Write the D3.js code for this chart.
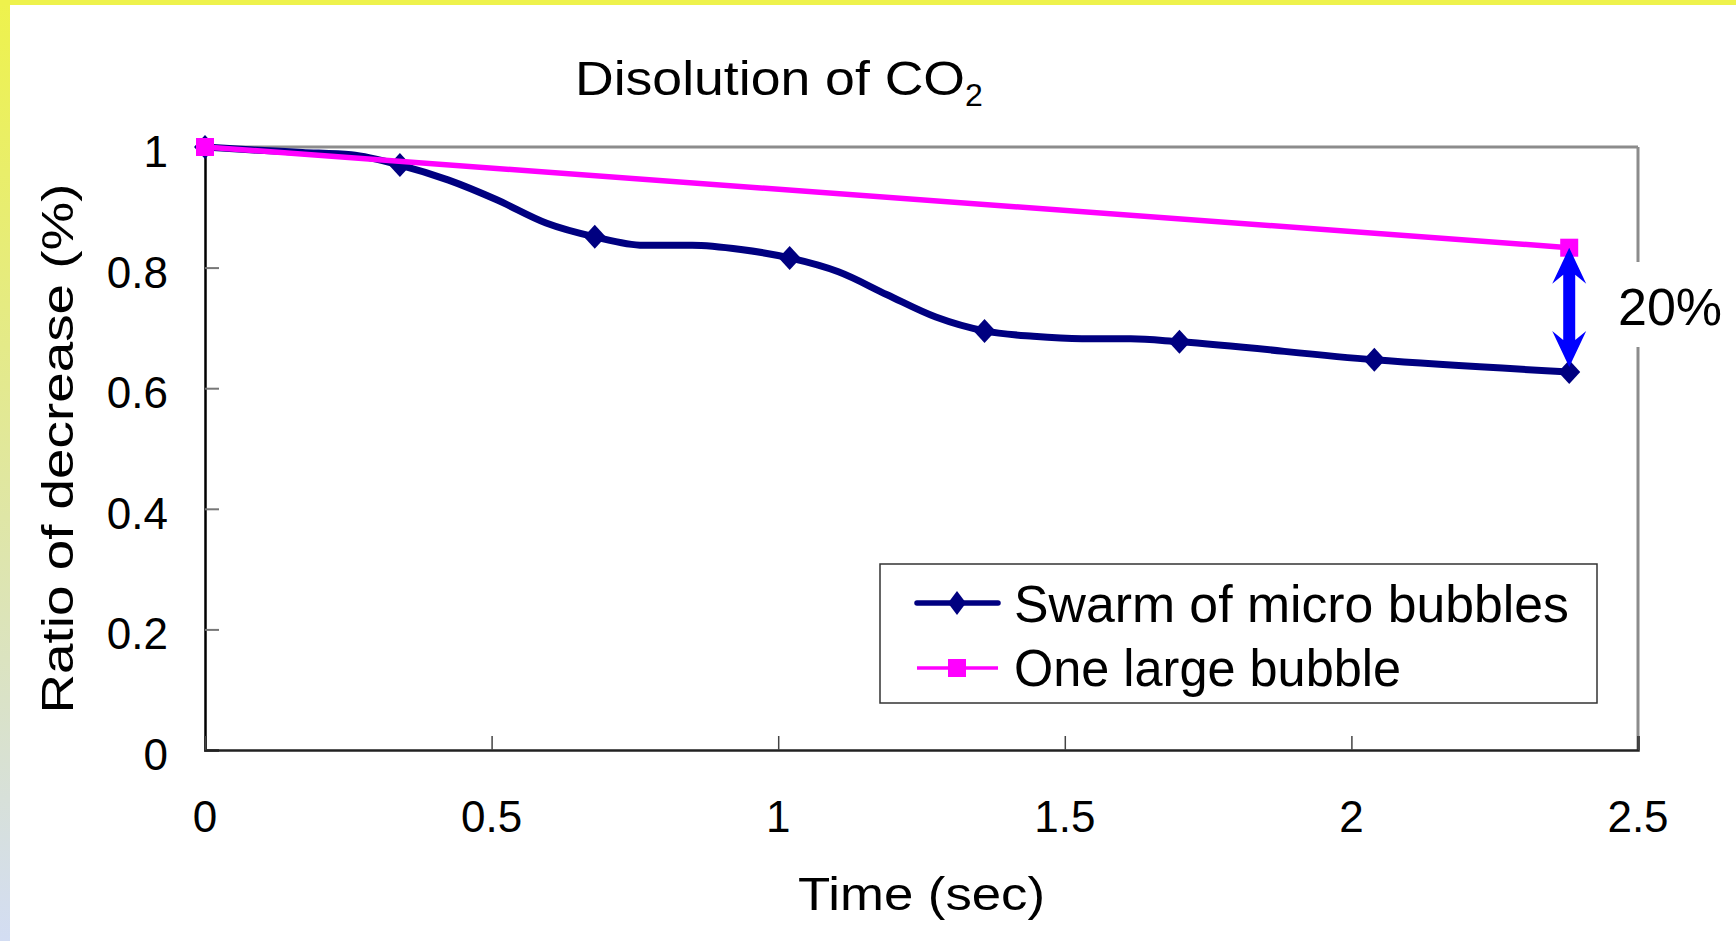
<!DOCTYPE html>
<html>
<head>
<meta charset="utf-8">
<script src="https://cdn.jsdelivr.net/npm/d3@7"></script>
<style>
  body { margin: 0; background: #fff; }
  text { font-family: "Liberation Sans", Arial, sans-serif; fill: #000; }
</style>
</head>
<body>
<div id="chart"></div>
<script>
// data
const swarmTime  = [0, 0.085, 0.17, 0.255, 0.34, 0.425, 0.51, 0.595, 0.68, 0.765, 0.85, 0.935,
                    1.02, 1.105, 1.19, 1.275, 1.36, 1.445, 1.53, 1.615, 1.70, 2.04, 2.38];
const swarmRatio = [1.000, 0.995, 0.991, 0.987, 0.970, 0.945, 0.912, 0.874, 0.851, 0.837, 0.837, 0.830,
                    0.816, 0.793, 0.755, 0.718, 0.695, 0.686, 0.682, 0.682, 0.677, 0.647, 0.627];
const swarmMarkerTimes = [0, 0.34, 0.68, 1.02, 1.36, 1.70, 2.04, 2.38];
const largeTime  = [0, 2.38];
const largeRatio = [1.0, 0.833];
const xTicks = [0, 0.5, 1, 1.5, 2, 2.5];
const xTickLabels = ["0", "0.5", "1", "1.5", "2", "2.5"];
const yTicks = [0, 0.2, 0.4, 0.6, 0.8, 1];
const yTickLabels = ["0", "0.2", "0.4", "0.6", "0.8", "1"];
const seriesNames = ["Swarm of micro bubbles", "One large bubble"];
const diffLabel = "20%";

const W = 1736, H = 941;
const plot = {left: 205, right: 1638, top: 147, bottom: 750};

const svg = d3.select("#chart").append("svg")
    .attr("width", W)
    .attr("height", H);

// yellow / blue frame of the slide
const defs = svg.append("defs");
const grad = defs.append("linearGradient")
    .attr("id", "sideGrad")
    .attr("x1", 0).attr("y1", 0).attr("x2", 0).attr("y2", 1);
grad.append("stop").attr("offset", "0%").attr("stop-color", "#eef24c");
grad.append("stop").attr("offset", "55%").attr("stop-color", "#dfe6a6");
grad.append("stop").attr("offset", "100%").attr("stop-color", "#d3ddf3");
svg.append("rect").attr("x", 0).attr("y", 0).attr("width", 10).attr("height", H).attr("fill", "url(#sideGrad)");
svg.append("rect").attr("x", 0).attr("y", 0).attr("width", W).attr("height", 5).attr("fill", "#eef24c");

const x = d3.scaleLinear().domain([0, 2.5]).range([plot.left, plot.right]);
const y = d3.scaleLinear().domain([0, 1]).range([plot.bottom, plot.top]);

// plot area border (top + right, grey)
svg.append("line")
    .attr("x1", plot.left).attr("x2", plot.right)
    .attr("y1", plot.top).attr("y2", plot.top)
    .attr("stroke", "#8c8c8c").attr("stroke-width", 3);
svg.append("line")
    .attr("x1", plot.right).attr("x2", plot.right)
    .attr("y1", plot.top).attr("y2", plot.bottom)
    .attr("stroke", "#8c8c8c").attr("stroke-width", 3);

// axes
const yAxis = svg.append("g")
    .attr("transform", `translate(${plot.left},0)`)
    .call(d3.axisRight(y).tickValues(yTicks).tickSize(14).tickFormat(""));
yAxis.select(".domain").attr("stroke", "#000").attr("stroke-width", 2.5);
yAxis.selectAll(".tick line").attr("stroke", "#777").attr("stroke-width", 2);

const xAxis = svg.append("g")
    .attr("transform", `translate(0,${plot.bottom})`)
    .call(d3.axisTop(x).tickValues(xTicks).tickSize(14).tickFormat(""));
xAxis.select(".domain").attr("stroke", "#222").attr("stroke-width", 2.5);
xAxis.selectAll(".tick line").attr("stroke", "#444").attr("stroke-width", 1.5);

svg.append("g").selectAll("text")
    .data(yTicks)
    .enter().append("text")
    .attr("x", 168)
    .attr("y", d => y(d) + 20)
    .attr("text-anchor", "end")
    .attr("font-size", 44)
    .text((d, i) => yTickLabels[i]);

svg.append("g").selectAll("text")
    .data(xTicks)
    .enter().append("text")
    .attr("x", d => x(d))
    .attr("y", 832)
    .attr("text-anchor", "middle")
    .attr("font-size", 44)
    .text((d, i) => xTickLabels[i]);

// titles
const title = svg.append("text")
    .attr("x", 575).attr("y", 95)
    .attr("font-size", 48);
title.append("tspan").attr("textLength", 390).attr("lengthAdjust", "spacingAndGlyphs").text("Disolution of CO");
title.append("tspan").attr("font-size", 32).attr("dy", 11).text("2");

svg.append("text")
    .attr("x", (plot.left + plot.right) / 2)
    .attr("y", 910)
    .attr("text-anchor", "middle")
    .attr("font-size", 46)
    .attr("textLength", 247)
    .attr("lengthAdjust", "spacingAndGlyphs")
    .text("Time (sec)");

svg.append("text")
    .attr("transform", `translate(73,${(plot.top + plot.bottom) / 2}) rotate(-90)`)
    .attr("text-anchor", "middle")
    .attr("font-size", 45)
    .attr("textLength", 530)
    .attr("lengthAdjust", "spacingAndGlyphs")
    .text("Ratio of decrease (%)");

// series
const swarm = swarmTime.map((t, i) => ({t: t, r: swarmRatio[i]}));
const large = largeTime.map((t, i) => ({t: t, r: largeRatio[i]}));

const line = d3.line().x(d => x(d.t)).y(d => y(d.r)).curve(d3.curveMonotoneX);

svg.append("path")
    .datum(swarm)
    .attr("d", line)
    .attr("fill", "none")
    .attr("stroke", "#000080")
    .attr("stroke-width", 7)
    .attr("stroke-linejoin", "round");

const diamond = (cx, cy, w, h) => `M${cx},${cy - h}L${cx + w},${cy}L${cx},${cy + h}L${cx - w},${cy}Z`;

svg.append("g").selectAll("path")
    .data(swarm.filter(d => swarmMarkerTimes.includes(d.t)))
    .enter().append("path")
    .attr("d", d => diamond(x(d.t), y(d.r), 11, 12))
    .attr("fill", "#000080");

svg.append("path")
    .datum(large)
    .attr("d", d3.line().x(d => x(d.t)).y(d => y(d.r)))
    .attr("fill", "none")
    .attr("stroke", "#ff00ff")
    .attr("stroke-width", 5.5);

svg.append("g").selectAll("rect")
    .data(large)
    .enter().append("rect")
    .attr("x", d => x(d.t) - 9)
    .attr("y", d => y(d.r) - 9)
    .attr("width", 18).attr("height", 18)
    .attr("fill", "#ff00ff");

// double arrow showing the difference at the last time
const ax = x(largeTime[largeTime.length - 1]);
const yT = y(largeRatio[largeRatio.length - 1]);
const yB = y(swarmRatio[swarmRatio.length - 1]) - 5;
const hl = 36, hw = 17, sw = 6, notch = 9;
svg.append("path")
    .attr("d", `M${ax},${yT}L${ax + hw},${yT + hl}L${ax + sw},${yT + hl - notch}` +
               `L${ax + sw},${yB - hl + notch}L${ax + hw},${yB - hl}L${ax},${yB}` +
               `L${ax - hw},${yB - hl}L${ax - sw},${yB - hl + notch}` +
               `L${ax - sw},${yT + hl - notch}L${ax - hw},${yT + hl}Z`)
    .attr("fill", "#0000ff");

svg.append("rect")
    .attr("x", 1612).attr("y", 262).attr("width", 116).attr("height", 85)
    .attr("fill", "#fff");
svg.append("text")
    .attr("x", 1618).attr("y", 325)
    .attr("font-size", 52)
    .text(diffLabel);

// legend
const lg = svg.append("g");
lg.append("rect")
    .attr("x", 880).attr("y", 564).attr("width", 717).attr("height", 139)
    .attr("fill", "#fff").attr("stroke", "#333").attr("stroke-width", 1.5);

const rowY = [603, 668];
lg.append("line").attr("x1", 917).attr("x2", 998).attr("y1", rowY[0]).attr("y2", rowY[0])
    .attr("stroke", "#000080").attr("stroke-width", 5.5).attr("stroke-linecap", "round");
lg.append("path").attr("d", diamond(957, rowY[0], 9, 12)).attr("fill", "#000080");
lg.append("line").attr("x1", 917).attr("x2", 998).attr("y1", rowY[1]).attr("y2", rowY[1])
    .attr("stroke", "#ff00ff").attr("stroke-width", 3.5);
lg.append("rect").attr("x", 948).attr("y", rowY[1] - 9).attr("width", 18).attr("height", 18)
    .attr("fill", "#ff00ff");

lg.append("text").attr("x", 1014).attr("y", 622).attr("font-size", 52)
    .attr("textLength", 555).attr("lengthAdjust", "spacingAndGlyphs")
    .text(seriesNames[0]);
lg.append("text").attr("x", 1014).attr("y", 686).attr("font-size", 52)
    .attr("textLength", 387).attr("lengthAdjust", "spacingAndGlyphs")
    .text(seriesNames[1]);
</script>
</body>
</html>
